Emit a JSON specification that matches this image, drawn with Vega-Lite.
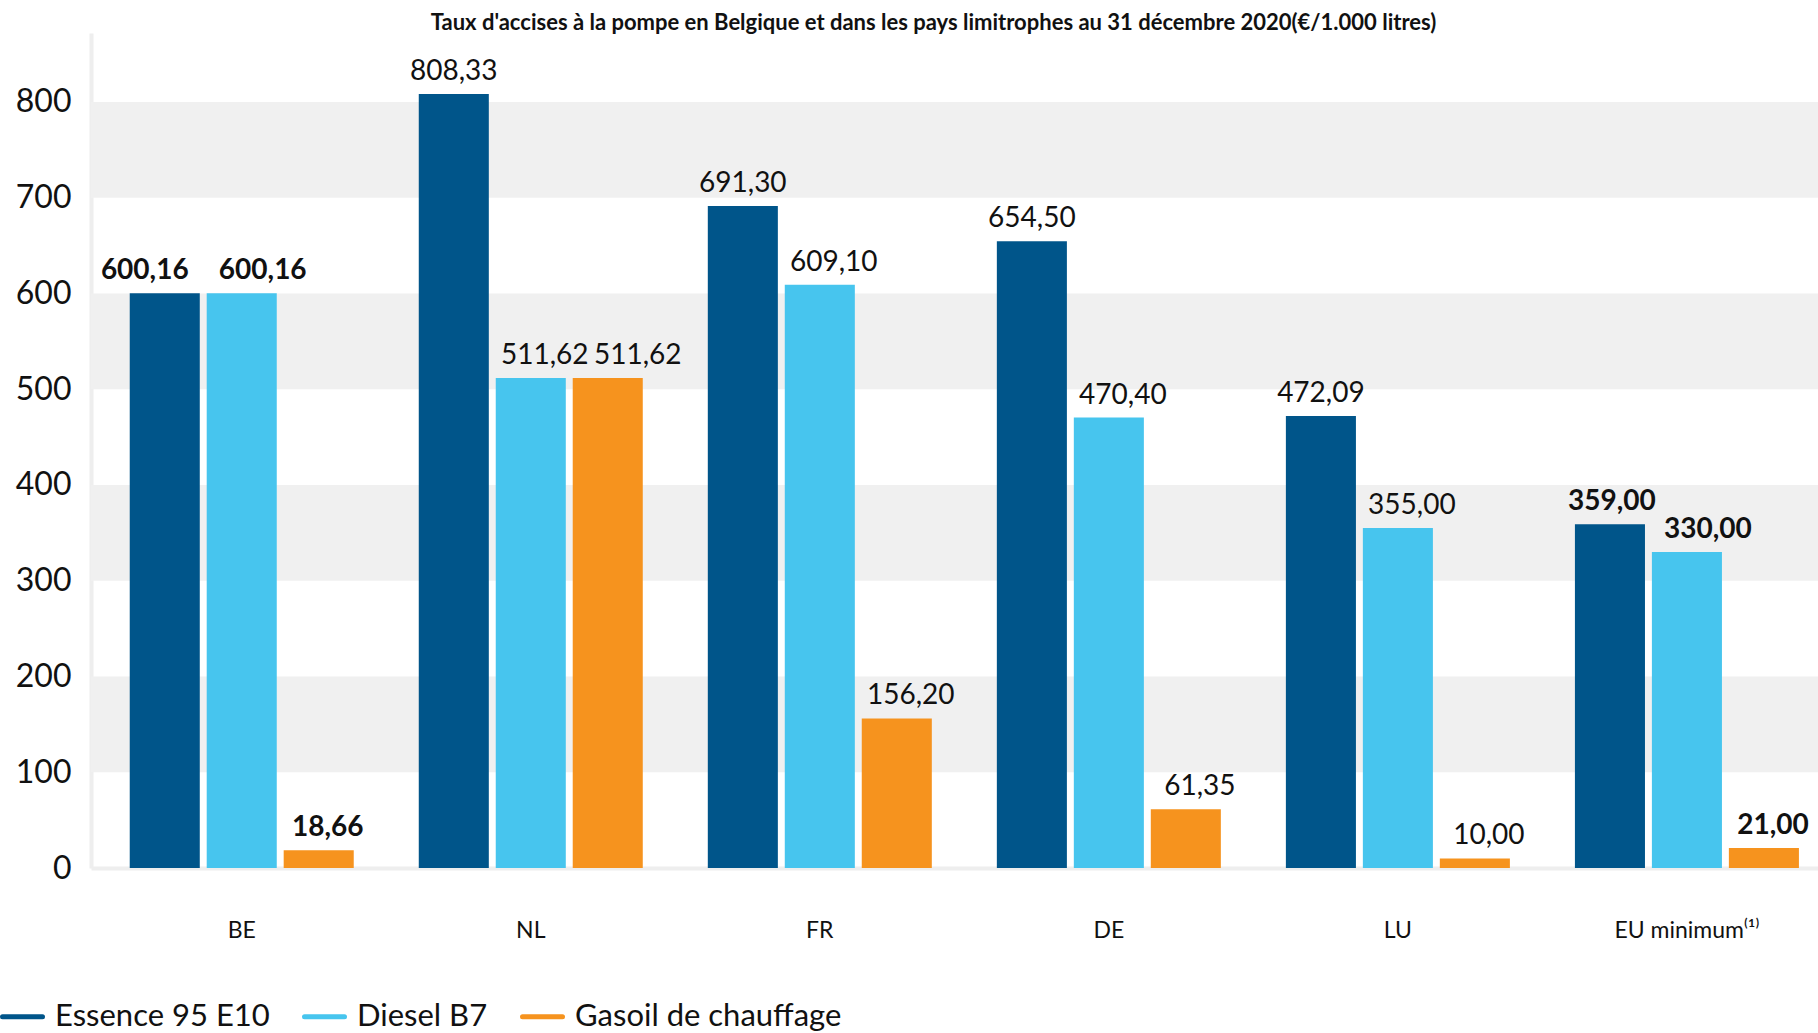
{
  "$schema": "https://vega.github.io/schema/vega-lite/v6.json",
  "autosize": {"type": "none"},
  "padding": {"left": 91, "top": 33, "right": 0, "bottom": 165},
  "width": 1727,
  "height": 835,
  "config": {
    "locale": {"number": {"decimal": ",", "thousands": ".", "grouping": [3], "currency": ["", "€"]}},
    "font": "Lato",
    "view": {"stroke": null}
  },
  "title": {
    "text": "Taux d'accises à la pompe en Belgique et dans les pays limitrophes au 31 décembre 2020(€/1.000 litres)",
    "font": "Lato",
    "fontSize": 22,
    "fontWeight": "bold",
    "color": "#111111",
    "anchor": "middle",
    "frame": "group",
    "dx": -21,
    "dy": 24,
    "offset": 5,
    "baseline": "alphabetic"
  },
  "datasets": {
    "bands": [
      {"from": 100, "to": 200},
      {"from": 300, "to": 400},
      {"from": 500, "to": 600},
      {"from": 700, "to": 800}
    ],
    "rates": [
      {"country": "BE", "fuel": "Essence 95 E10", "value": 600.16},
      {"country": "BE", "fuel": "Diesel B7", "value": 600.16},
      {"country": "BE", "fuel": "Gasoil de chauffage", "value": 18.66},
      {"country": "NL", "fuel": "Essence 95 E10", "value": 808.33},
      {"country": "NL", "fuel": "Diesel B7", "value": 511.62},
      {"country": "NL", "fuel": "Gasoil de chauffage", "value": 511.62},
      {"country": "FR", "fuel": "Essence 95 E10", "value": 691.30},
      {"country": "FR", "fuel": "Diesel B7", "value": 609.10},
      {"country": "FR", "fuel": "Gasoil de chauffage", "value": 156.20},
      {"country": "DE", "fuel": "Essence 95 E10", "value": 654.50},
      {"country": "DE", "fuel": "Diesel B7", "value": 470.40},
      {"country": "DE", "fuel": "Gasoil de chauffage", "value": 61.35},
      {"country": "LU", "fuel": "Essence 95 E10", "value": 472.09},
      {"country": "LU", "fuel": "Diesel B7", "value": 355.00},
      {"country": "LU", "fuel": "Gasoil de chauffage", "value": 10.00},
      {"country": "EU minimum⁽¹⁾", "fuel": "Essence 95 E10", "value": 359.00},
      {"country": "EU minimum⁽¹⁾", "fuel": "Diesel B7", "value": 330.00},
      {"country": "EU minimum⁽¹⁾", "fuel": "Gasoil de chauffage", "value": 21.00}
    ]
  },
  "layer": [
    {
      "data": {"name": "bands"},
      "mark": {"type": "rect", "color": "#F0F0F0"},
      "encoding": {
        "y": {"field": "from", "type": "quantitative", "scale": {"domain": [0, 872], "nice": false}},
        "y2": {"field": "to"}
      }
    },
    {
      "data": {"name": "rates"},
      "layer": [
        {
          "mark": {"type": "bar"},
          "encoding": {
            "color": {
              "field": "fuel",
              "type": "nominal",
              "sort": ["Essence 95 E10", "Diesel B7", "Gasoil de chauffage"],
              "scale": {"domain": ["Essence 95 E10", "Diesel B7", "Gasoil de chauffage"], "range": ["#00558A", "#47C5EE", "#F6931E"]},
              "legend": {
                "orient": "none",
                "legendX": -91,
                "legendY": 961,
                "direction": "horizontal",
                "columns": 3,
                "title": null,
                "symbolType": "stroke",
                "symbolSize": 1600,
                "symbolStrokeWidth": 5,
                "labelFont": "Lato",
                "labelFontSize": 31,
                "labelColor": "#111111",
                "labelOffset": 10,
                "columnPadding": 24,
                "labelLimit": 500,
                "encode": {
                  "symbols": {
                    "update": {
                      "stroke": {"scale": "color", "field": "value"},
                      "strokeCap": {"value": "round"}
                    }
                  }
                }
              }
            }
          }
        },
        {
          "transform": [{"filter": "datum.country !== 'BE' && datum.country !== 'EU minimum⁽¹⁾' && datum.fuel === 'Essence 95 E10'"}],
          "mark": {"type": "text", "font": "Lato", "fontSize": 28, "baseline": "alphabetic", "dy": -14, "dx": 0, "color": "#111111"},
          "encoding": {"text": {"field": "value", "type": "quantitative", "format": ".2f"}}
        },
        {
          "transform": [{"filter": "datum.country !== 'BE' && datum.country !== 'EU minimum⁽¹⁾' && datum.fuel !== 'Essence 95 E10' && !(datum.country === 'NL' && datum.fuel === 'Gasoil de chauffage')"}],
          "mark": {"type": "text", "font": "Lato", "fontSize": 28, "baseline": "alphabetic", "dy": -14, "dx": 14, "color": "#111111"},
          "encoding": {"text": {"field": "value", "type": "quantitative", "format": ".2f"}}
        },
        {
          "transform": [{"filter": "datum.country === 'NL' && datum.fuel === 'Gasoil de chauffage'"}],
          "mark": {"type": "text", "font": "Lato", "fontSize": 28, "baseline": "alphabetic", "dy": -14, "dx": 30, "color": "#111111"},
          "encoding": {"text": {"field": "value", "type": "quantitative", "format": ".2f"}}
        },
        {
          "transform": [{"filter": "datum.country === 'BE' && datum.fuel === 'Essence 95 E10'"}],
          "mark": {"type": "text", "font": "Lato", "fontSize": 28, "fontWeight": "bold", "baseline": "alphabetic", "dy": -14, "dx": -20, "color": "#111111"},
          "encoding": {"text": {"field": "value", "type": "quantitative", "format": ".2f"}}
        },
        {
          "transform": [{"filter": "datum.country === 'EU minimum⁽¹⁾' && datum.fuel === 'Essence 95 E10'"}],
          "mark": {"type": "text", "font": "Lato", "fontSize": 28, "fontWeight": "bold", "baseline": "alphabetic", "dy": -14, "dx": 2, "color": "#111111"},
          "encoding": {"text": {"field": "value", "type": "quantitative", "format": ".2f"}}
        },
        {
          "transform": [{"filter": "(datum.country === 'BE' || datum.country === 'EU minimum⁽¹⁾') && datum.fuel === 'Diesel B7'"}],
          "mark": {"type": "text", "font": "Lato", "fontSize": 28, "fontWeight": "bold", "baseline": "alphabetic", "dy": -14, "dx": 21, "color": "#111111"},
          "encoding": {"text": {"field": "value", "type": "quantitative", "format": ".2f"}}
        },
        {
          "transform": [{"filter": "(datum.country === 'BE' || datum.country === 'EU minimum⁽¹⁾') && datum.fuel === 'Gasoil de chauffage'"}],
          "mark": {"type": "text", "font": "Lato", "fontSize": 28, "fontWeight": "bold", "baseline": "alphabetic", "dy": -14, "dx": 9, "color": "#111111"},
          "encoding": {"text": {"field": "value", "type": "quantitative", "format": ".2f"}}
        }
      ],
      "encoding": {
        "x": {
          "field": "country",
          "type": "nominal",
          "sort": ["BE", "NL", "FR", "DE", "LU", "EU minimum⁽¹⁾"],
          "scale": {"paddingInner": 0.225, "paddingOuter": 0.1, "align": 0.67},
          "axis": {
            "title": null,
            "labelAngle": 0,
            "labelFont": "Lato",
            "labelFontSize": 23,
            "labelColor": "#111111",
            "labelPadding": 51,
            "ticks": false,
            "domainColor": "#EEEEEE",
            "domainWidth": 4,
            "grid": false
          }
        },
        "xOffset": {
          "field": "fuel",
          "type": "nominal",
          "sort": ["Essence 95 E10", "Diesel B7", "Gasoil de chauffage"],
          "scale": {"paddingInner": 0.09, "paddingOuter": 0}
        },
        "y": {
          "field": "value",
          "type": "quantitative",
          "scale": {"domain": [0, 872], "nice": false},
          "axis": {
            "title": null,
            "values": [0, 100, 200, 300, 400, 500, 600, 700, 800],
            "labelFont": "Lato",
            "labelFontSize": 32,
            "labelColor": "#111111",
            "labelPadding": 20,
            "ticks": false,
            "grid": false,
            "domainColor": "#EEEEEE",
            "domainWidth": 4
          }
        }
      }
    }
  ]
}
